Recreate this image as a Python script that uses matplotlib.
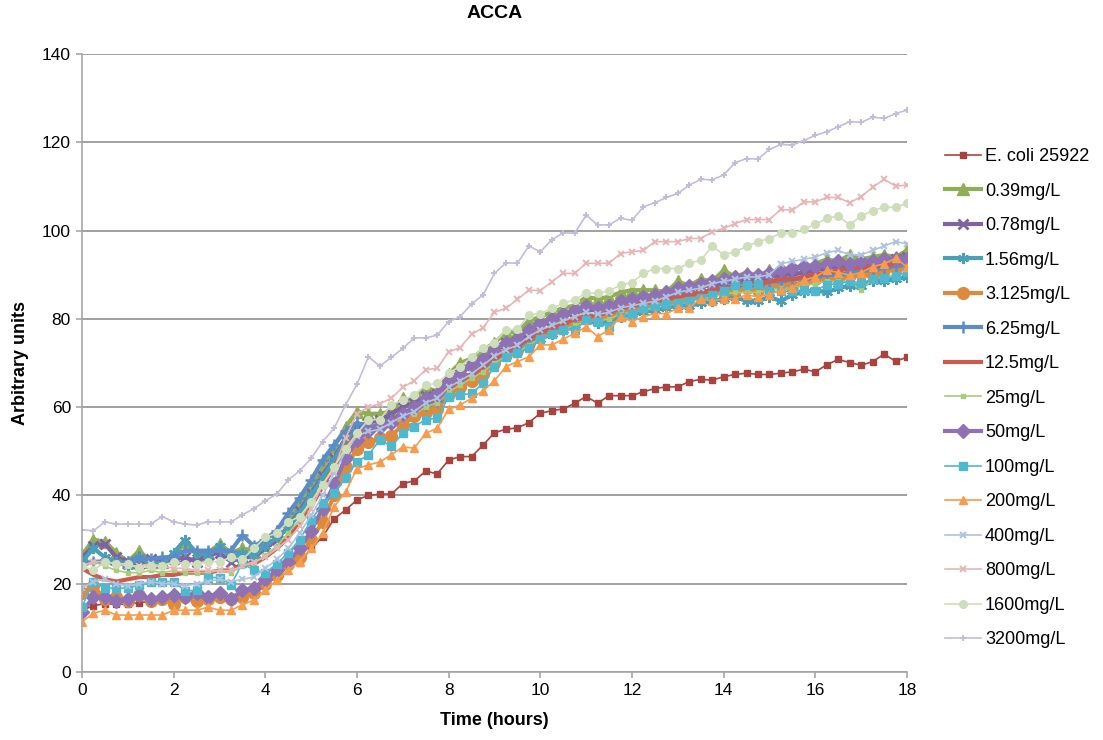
import numpy as np
import matplotlib
matplotlib.use("Agg")
import matplotlib.pyplot as plt

plt.rcParams['font.family'] = ['Liberation Sans', 'DejaVu Sans']

# Sampling every 15 minutes over 18 hours
hours = np.arange(73) * 0.25

ecoli = [14, 15, 15.5, 15.3, 15.4, 15.7, 16, 16.3,
         16.3, 16.5, 16.5, 16.8, 17, 16.7, 17.8, 18.2,
         19.7, 21.6, 24, 24.8, 28, 30.6, 34.7, 36.7,
         39, 40, 40.3, 40.3, 42.7, 43.3, 45.5, 44.9,
         48, 48.8, 48.8, 51.4, 54.2, 55, 55.3, 56.5,
         58.6, 59.2, 59.6, 60.9, 62.4, 60.9, 62.6, 62.6,
         62.6, 63.5, 64.2, 64.6, 64.6, 65.8, 66.3, 66.1,
         66.9, 67.4, 67.7, 67.4, 67.4, 67.7, 68, 68.6,
         68, 69.6, 70.8, 70.1, 69.5, 70.3, 72, 70.4,
         71.3]

c039 = [26.5, 30, 29.5, 27, 25, 27.5, 25, 25,
        26, 29.5, 26.5, 27, 29, 27, 28, 27.5,
        30, 32, 34.5, 38, 42, 46, 51, 55.5,
        59, 58.5, 58.5, 59, 62, 61.5, 64.5, 63.5,
        67.5, 70, 71, 73, 74.5, 77, 77, 79.5,
        80.5, 81.5, 82.5, 83, 85, 84.5, 85, 86,
        86.5, 86.5, 86.5, 86, 88.5, 87.5, 89, 88.5,
        91, 89.5, 90.5, 89.5, 91, 90.5, 92, 91.5,
        92.5, 93.5, 93, 94.5, 93.5, 94, 94.5, 94,
        95.5]

c078 = [26, 28.5, 29, 26, 25, 24.5, 25.5, 25,
        25.5, 26, 25, 26.5, 27, 25, 26, 26,
        28, 30, 33, 36.5, 40.5, 44.5, 48.5, 53,
        55.5, 56.5, 57, 58.5, 60, 61, 62.5, 63,
        66, 67.5, 69.5, 70.5, 72.5, 74.5, 75, 77,
        78.5, 79.5, 80.5, 81.5, 82, 82, 82.5, 83.5,
        84, 84.5, 85, 85.5, 86, 86.5, 87.5, 87.5,
        88, 88.5, 89, 88.5, 89.5, 90, 90, 90.5,
        91, 91.5, 92, 91.5, 92, 92.5, 93, 93.5,
        94]

c156 = [25, 28, 26, 25, 24, 26, 24.5, 24.5,
        27, 30, 27, 26.5, 28.5, 26, 27, 26.5,
        28.5, 30.5, 32.5, 36, 40, 44, 48, 52.5,
        54.5, 55, 55.5, 56.5, 58, 59, 60.5, 61,
        64, 65, 66.5, 68, 70, 71.5, 72.5, 74,
        75.5, 76.5, 77.5, 78.5, 79.5, 79, 79.5, 80.5,
        81, 81.5, 82, 82.5, 83, 83, 83.5, 84,
        84.5, 85, 84, 84, 85, 84, 85.5, 86,
        86.5, 86, 87, 87.5, 87.5, 88.5, 88.5, 89,
        89.5]

c3125 = [18, 19.5, 16.5, 17, 16, 17.5, 16, 16.5,
         15.5, 17, 16, 16.5, 17, 16.5, 17, 18,
         20, 22, 24.5, 26, 30, 34, 40, 46.5,
         50.5, 52, 53, 53.5, 56, 58, 59, 59.5,
         63, 64.5, 66, 67.5, 70, 72, 73, 74.5,
         76.5, 77.5, 78.5, 79.5, 80.5, 80.5, 81, 82,
         82.5, 83, 83.5, 84, 84.5, 85, 85.5, 86,
         86, 86.5, 87, 86.5, 87.5, 88, 87.5, 88.5,
         89, 89.5, 89, 90, 90.5, 90, 91, 91.5,
         92]

c625 = [24.5, 25, 25, 24.5, 25, 26, 25.5, 26,
        26, 27.5, 27.5, 27.5, 27.5, 27.5, 31, 28.5,
        30, 32, 36, 39.5, 43.5, 48, 51.5, 54.5,
        56.5, 55.5, 56, 57, 58.5, 59.5, 60.5, 61.5,
        64.5, 66, 67.5, 69, 71, 72.5, 73.5, 75.5,
        77, 78, 79, 80, 80.5, 81, 81.5, 82.5,
        83, 83.5, 84, 84.5, 85.5, 85.5, 86, 86.5,
        87, 87.5, 88, 87.5, 88.5, 88.5, 89, 89,
        89.5, 90, 90, 90.5, 91, 91, 91.5, 92,
        92.5]

c125 = [23.5, 22, 21, 20.5, 21, 21.5, 21.5, 22,
        22, 22.5, 22.5, 22.5, 23, 23, 24.5, 24.5,
        26, 28, 30.5, 33.5, 37.5, 42, 46.5, 51,
        54, 55, 55.5, 57, 58.5, 59.5, 61, 62,
        64.5, 66, 67.5, 69, 71, 72.5, 74, 75.5,
        77, 78, 79, 80, 80.5, 81, 81.5, 82.5,
        83, 83.5, 84, 84.5, 85, 85.5, 86, 86.5,
        87, 87.5, 88, 88, 88.5, 89, 89, 89.5,
        90, 90.5, 91, 91.5, 91.5, 92, 92, 92.5,
        93]

c25 = [24, 25, 24, 23, 22.5, 22.5, 23, 22.5,
       23, 22.5, 22.5, 22.5, 23, 22.5, 24, 24.5,
       26.5, 28.5, 31.5, 34.5, 38.5, 42.5, 46.5, 51,
       53.5, 54.5, 55, 56, 57.5, 58.5, 60, 61,
       63.5, 65, 66.5, 68, 70, 71.5, 72.5, 74,
       75.5, 76.5, 77.5, 78.5, 79.5, 79.5, 80, 81,
       81.5, 82, 82.5, 83, 83.5, 84, 84.5, 85,
       85.5, 86, 86, 86, 86.5, 87, 87, 87.5,
       88, 88.5, 88.5, 88.5, 86.5, 89, 89.5, 90,
       90.5]

c50 = [13.5, 17, 17, 16, 16.5, 17.5, 16.5, 17,
       17.5, 17, 18, 17, 18, 16.5, 18.5, 19,
       21, 23, 25, 28, 32, 37, 42.5, 48.5,
       52.5, 54.5, 55.5, 56.5, 58.5, 60, 62, 63,
       66, 67.5, 69.5, 71, 73, 74.5, 75.5, 77.5,
       79, 80, 81, 82, 83, 82.5, 83, 84,
       84.5, 85, 85.5, 86, 87, 87.5, 88, 88.5,
       89, 89.5, 90, 90, 90.5, 91, 91.5, 92,
       92, 92.5, 93, 92.5, 93, 93, 93.5, 93.5,
       93.5]

c100 = [14.8, 20.5, 19, 19, 19, 19.7, 20.5, 20.5,
        20.5, 18.4, 18.5, 21.4, 21.4, 19.8, 24.6, 23.1,
        22.5, 24.5, 27, 30, 34.4, 38.2, 40.5, 44,
        47.6, 49.2, 52.6, 51.1, 54.1, 55.6, 57.2, 57.5,
        62.4, 62.8, 63.1, 65.4, 69.2, 71.4, 72.2, 73.3,
        75.5, 76.5, 77.5, 77.5, 79.7, 79.4, 78.2, 80.5,
        81.2, 82.4, 82.8, 83.3, 83.5, 84, 84.8, 85.4,
        86.2, 87.7, 87.7, 87.8, 86.2, 86.2, 86.3, 86.5,
        86.4, 87.7, 88, 88.5, 88.1, 89, 89.2, 89.6,
        90.7]

c200 = [11.4, 13.3, 14, 12.9, 12.9, 12.9, 12.9, 12.9,
        14, 14, 14, 14.7, 14, 14, 15.2, 16.3,
        18.5, 20.8, 23.1, 25, 28, 31.4, 37.4, 40.8,
        46.1, 46.9, 47.6, 49.2, 51, 50.7, 54.1, 55.2,
        59.5, 60.5, 62, 63.7, 66, 69.2, 70.3, 71.4,
        74.1, 74.1, 75.4, 76.7, 78.2, 76, 77.5, 80.5,
        79.4, 80.5, 81.2, 81.2, 82.4, 82.5, 84.6, 84,
        84.5, 84.6, 85.4, 85, 85.5, 86.5, 87, 88.8,
        89.5, 91, 90.5, 89.9, 90.5, 91.8, 92.5, 93.7,
        91.8]

c400 = [19, 20.5, 21, 20, 19.5, 20, 20.5, 20,
        20, 19.5, 20, 20.5, 21, 20.5, 21, 21.5,
        23.5, 25.5, 28, 31.5, 35.5, 40, 45, 50,
        53.5, 54.5, 55, 56.5, 58, 59, 61, 62,
        64.5, 66, 67.5, 69.5, 71.5, 73, 74, 76,
        77.5, 78.5, 79.5, 80.5, 81.5, 81, 81.5, 82.5,
        83, 83.5, 84, 85, 86, 86.5, 87, 88,
        88.5, 89, 89.5, 89.5, 90, 92.5, 93, 93.5,
        94, 95, 95.5, 94.5, 94.5, 95.5, 96.5, 97.5,
        97]

c800 = [24, 25, 25, 24.5, 24, 24, 24.5, 24,
        23.5, 23.5, 23, 23, 23, 23, 24, 25,
        26, 28, 30, 33, 37, 42.5, 46, 53,
        58.5, 60, 60.8, 62, 64.5, 66, 68.5, 68.8,
        72.5, 73.5, 76.5, 78, 81.5, 82.4, 84.4, 86.5,
        86.4, 88.4, 90.3, 90.3, 92.6, 92.6, 92.6, 94.8,
        95.2, 95.5, 97.5, 97.5, 97.5, 98.2, 98.2, 99.7,
        100.5, 101.6, 102.5, 102.5, 102.5, 104.8, 104.6, 106.5,
        106.5, 107.5, 107.5, 106.3, 107.7, 109.8, 111.6, 110.1,
        110.3]

c1600 = [24, 23, 25, 24.5, 24.5, 23.5, 24, 24,
         25, 24.5, 24.5, 25, 25, 26, 25.5, 28,
         30.5, 31.5, 34, 35.2, 38.6, 42.4, 46.5, 50.5,
         54.1, 57.1, 57.2, 60.5, 61.6, 62.8, 65, 65.4,
         67.7, 69.2, 71.3, 73.3, 74.6, 77.5, 77.6, 80.9,
         81.2, 82.4, 83.5, 84.3, 85.9, 85.8, 86.3, 87.7,
         88.2, 90.3, 91.4, 91.4, 91.4, 92.6, 93.3, 96.5,
         94.5, 95.2, 96.4, 97.5, 98.2, 99.4, 99.4, 100.3,
         101.4, 102.8, 103.3, 101.3, 103.3, 104.5, 105.3, 105.3,
         106.2]

c3200 = [32.2, 32, 34, 33.5, 33.5, 33.5, 33.5, 35.2,
         34, 33.5, 33.3, 34, 34, 34, 35.6, 37,
         38.8, 40.3, 43.5, 45.6, 48.4, 52.2, 55.2, 60.5,
         65.2, 71.4, 69.3, 71.3, 73.3, 75.7, 75.7, 76.3,
         79.4, 80.5, 83.4, 85.4, 90.3, 92.7, 92.6, 96.5,
         95.2, 97.9, 99.5, 99.4, 103.5, 101.3, 101.3, 102.8,
         102.3, 105.4, 106.3, 107.5, 108.4, 110.3, 111.6, 111.5,
         112.6, 115.4, 116.3, 116.2, 118.4, 119.5, 119.4, 120.4,
         121.6, 122.4, 123.5, 124.7, 124.5, 125.7, 125.4, 126.5,
         127.3]

labels = ["E. coli 25922", "0.39mg/L", "0.78mg/L", "1.56mg/L", "3.125mg/L",
          "6.25mg/L", "12.5mg/L", "25mg/L", "50mg/L", "100mg/L", "200mg/L",
          "400mg/L", "800mg/L", "1600mg/L", "3200mg/L"]
series = [ecoli, c039, c078, c156, c3125, c625, c125, c25, c50, c100, c200,
          c400, c800, c1600, c3200]

# colour, line width, marker, marker size, marker edge width
styles = [
    ("#A8433F", 1.2, "s", 5.0, 1.0),
    ("#8FAE55", 3.0, "^", 8.5, 1.0),
    ("#7E62A1", 3.0, "x", 7.5, 2.0),
    ("#4A9FB9", 3.0, (6, 2, 0), 8.0, 1.6),
    ("#DE8A3E", 3.0, "o", 8.5, 1.0),
    ("#5B8CC8", 3.0, "+", 8.5, 1.8),
    ("#CC5A4F", 3.0, None, 0, 0),
    ("#A9CB7A", 1.2, "s", 3.0, 1.0),
    ("#8E72B3", 3.0, "D", 7.0, 1.0),
    ("#4FB8CF", 1.2, "s", 6.0, 1.0),
    ("#F79B4C", 1.2, "^", 5.5, 1.0),
    ("#AEC3E0", 1.2, "x", 4.0, 1.4),
    ("#E6B6B6", 1.2, "x", 4.0, 1.4),
    ("#CFDEBA", 1.2, "o", 5.5, 1.0),
    ("#C5BCD9", 1.2, "+", 4.5, 1.4),
]

fig = plt.figure(figsize=(11.03, 7.40), dpi=100)
ax = fig.add_axes([82 / 1103, 1 - 672 / 740, (907 - 82) / 1103, (672 - 54) / 740])

handles = []
for vals, lab, (col, lw, mk, ms, mew) in zip(series, labels, styles):
    h, = ax.plot(hours, vals, color=col, lw=lw, marker=mk, ms=ms,
                 markeredgewidth=mew, markerfacecolor=col, markeredgecolor=col,
                 label=lab, solid_joinstyle="round")
    handles.append(h)

ax.set_xlim(0, 18)
ax.set_ylim(0, 140)
ax.set_xticks(np.arange(0, 19, 2))
ax.set_yticks(np.arange(0, 141, 20))
ax.yaxis.grid(True, color="#A0A0A0", lw=1.4)
ax.set_axisbelow(True)
for s in ("top", "right"):
    ax.spines[s].set_visible(False)
for s in ("left", "bottom"):
    ax.spines[s].set_color("#A6A6A6")
    ax.spines[s].set_linewidth(1.2)
ax.tick_params(axis="both", colors="#A6A6A6", length=4, width=1.2,
               labelcolor="black", labelsize=12.5, pad=4)

ax.set_title("ACCA", fontsize=14, fontweight="bold", pad=26)
ax.set_xlabel("Time (hours)", fontsize=13, fontweight="bold", labelpad=10)
ax.set_ylabel("Arbitrary units", fontsize=13, fontweight="bold", labelpad=9)

leg = fig.legend(handles=handles, labels=labels, loc="upper left",
                 bbox_to_anchor=(938 / 1103, 1 - 141 / 740), frameon=False,
                 fontsize=13, handlelength=2.0, handletextpad=0.2,
                 labelspacing=0.97, borderaxespad=0)

fig.savefig("out.png", dpi=100)
